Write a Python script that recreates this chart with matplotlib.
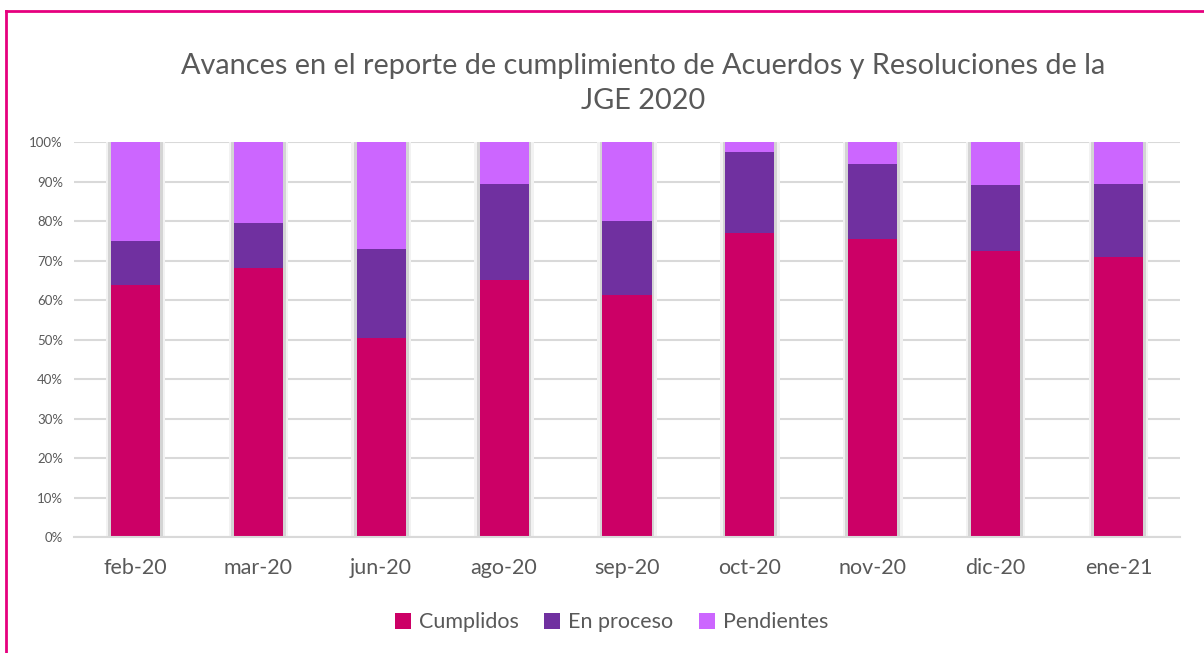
import numpy as np
import matplotlib
matplotlib.use('Agg')
import matplotlib.pyplot as plt
from matplotlib.lines import Line2D
from matplotlib.ticker import PercentFormatter

# values (percent)
meses = ['feb-20', 'mar-20', 'jun-20', 'ago-20', 'sep-20', 'oct-20', 'nov-20', 'dic-20', 'ene-21']
cumplidos = [63.8, 68.1, 50.4, 65.0, 61.3, 77.0, 75.4, 72.3, 70.8]
en_proceso = [11.1, 11.4, 22.4, 24.3, 18.7, 20.4, 19.1, 16.8, 18.7]
pendientes = [25.1, 20.5, 27.2, 10.7, 20.0, 2.6, 5.5, 10.9, 10.5]

series = ['Cumplidos', 'En proceso', 'Pendientes']
colores = ['#cc0066', '#7030a0', '#cc66ff']

plt.rcParams['font.family'] = ['Lato', 'DejaVu Sans']
gris = '#595959'

fig = plt.figure(figsize=(12.04, 6.53), dpi=100)
ax = fig.add_axes([0.0615, 0.1776, 0.9185, 0.6049])

x = np.arange(len(meses))
w = 0.4

# soft shadow behind each bar
ax.bar(x, 100, width=w + 0.085, color='#f2f2f2', zorder=1)
ax.bar(x, 100, width=w + 0.045, color='#d4d4d4', zorder=1)

fondo = np.zeros(len(meses))
for vals, nombre, c in zip([cumplidos, en_proceso, pendientes], series, colores):
    ax.bar(x, vals, width=w, bottom=fondo, color=c, label=nombre, zorder=2)
    fondo = fondo + np.array(vals)

ax.set_xlim(-0.5, len(meses) - 0.5)
ax.set_ylim(0, 100)
ax.set_yticks(np.arange(0, 101, 10))
ax.yaxis.set_major_formatter(PercentFormatter(decimals=0))
ax.yaxis.grid(True, color='#d9d9d9', lw=1.5, zorder=0)
ax.set_axisbelow(True)
for s in ['top', 'right', 'left']:
    ax.spines[s].set_visible(False)
ax.spines['bottom'].set_color('#d9d9d9')
ax.spines['bottom'].set_linewidth(1.5)
ax.tick_params(axis='both', length=0)
ax.tick_params(axis='y', labelsize=9.5, labelcolor=gris, pad=8)
ax.tick_params(axis='x', labelsize=15.5, labelcolor=gris, pad=15)
ax.set_xticks(x)
ax.set_xticklabels(meses)

fig.text(0.534, 0.872, 'Avances en el reporte de cumplimiento de Acuerdos y Resoluciones de la\nJGE 2020',
         ha='center', va='center', fontsize=20.8, color=gris, linespacing=1.42)

ax.legend(loc='upper center', bbox_to_anchor=(0.486, -0.142), ncol=3, frameon=False,
          fontsize=15.5, labelcolor=gris, handlelength=0.75, handleheight=0.75,
          handletextpad=0.35, columnspacing=1.2)

# pink frame around the chart
rosa = '#e6007e'
fig.add_artist(Line2D([6 / 1204, 6 / 1204], [0, 1 - 11 / 653], color=rosa, lw=2, transform=fig.transFigure))
fig.add_artist(Line2D([6 / 1204, 1], [1 - 11 / 653, 1 - 11 / 653], color=rosa, lw=2, transform=fig.transFigure))

fig.savefig('out.png', dpi=100)
